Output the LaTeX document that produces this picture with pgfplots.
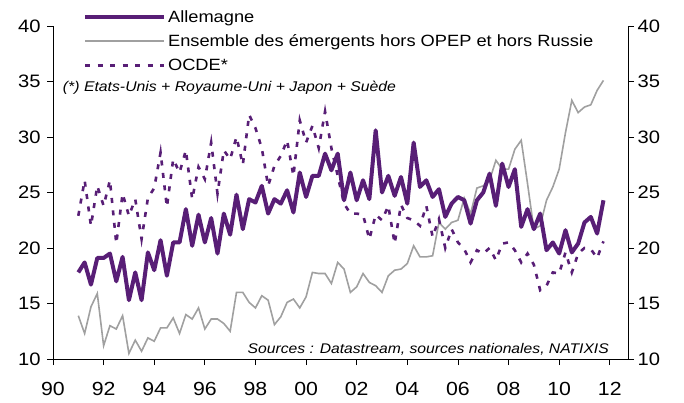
\documentclass[border=0pt]{standalone}
\usepackage{fontspec}
\setmainfont[FakeStretch=1.12]{Liberation Sans}
\usepackage{pgfplots}
\usepackage{pgfplotstable}
\pgfplotsset{compat=1.18}
\definecolor{mypurple}{RGB}{88,30,118}
\definecolor{mygray}{RGB}{160,160,160}

% quarterly data, 1991Q1 ... 2011Q4
\pgfplotstableread{
x       all   emg   ocde
1991.00 17.8  13.9  22.9
1991.25 18.7  12.3  26.1
1991.50 16.7  14.7  22.0
1991.75 19.1  15.9  25.6
1992.00 19.1  11.2  23.8
1992.25 19.5  13.0  26.1
1992.50 17.0  12.7  20.4
1992.75 19.2  13.9  24.9
1993.00 15.3  10.5  22.9
1993.25 17.8  11.7  24.4
1993.50 15.3  10.7  20.8
1993.75 19.6  11.9  24.5
1994.00 18.0  11.6  25.4
1994.25 20.7  12.8  28.6
1994.50 17.5  12.8  23.7
1994.75 20.5  13.7  28.0
1995.00 20.5  12.3  26.8
1995.25 23.5  14.0  28.8
1995.50 20.2  13.6  24.4
1995.75 23.0  14.6  27.3
1996.00 20.5  12.7  26.2
1996.25 22.7  13.6  29.5
1996.50 19.5  13.6  24.9
1996.75 23.1  13.2  28.8
1997.00 21.2  12.5  28.0
1997.25 24.8  16.0  30.0
1997.50 21.7  16.0  27.5
1997.75 24.4  15.1  32.0
1998.00 24.1  14.6  30.8
1998.25 25.6  15.7  29.0
1998.50 23.1  15.3  25.6
1998.75 24.4  13.1  27.4
1999.00 24.0  13.8  28.3
1999.25 25.2  15.1  29.7
1999.50 23.2  15.4  26.5
1999.75 26.8  14.6  31.5
2000.00 24.6  15.6  29.5
2000.25 26.5  17.8  31.0
2000.50 26.5  17.7  29.0
2000.75 28.5  17.7  32.3
2001.00 27.0  16.8  29.0
2001.25 28.5  18.7  26.5
2001.50 24.3  18.1  24.0
2001.75 26.8  16.0  23.1
2002.00 24.3  16.5  23.1
2002.25 26.1  17.7  23.0
2002.50 24.4  16.9  20.8
2002.75 30.6  16.6  23.0
2003.00 25.0  16.0  22.5
2003.25 26.5  17.5  23.8
2003.50 24.7  18.0  20.4
2003.75 26.4  18.1  23.9
2004.00 24.0  18.6  22.7
2004.25 29.5  20.2  22.5
2004.50 25.5  19.2  22.0
2004.75 26.1  19.2  23.8
2005.00 24.6  19.3  21.0
2005.25 25.3  22.3  22.6
2005.50 22.8  21.7  20.0
2005.75 24.0  22.3  21.7
2006.00 24.6  22.5  20.5
2006.25 24.3  24.5  19.9
2006.50 22.2  23.1  18.7
2006.75 24.3  25.4  19.8
2007.00 25.0  25.6  19.5
2007.25 26.7  26.1  20.0
2007.50 23.8  27.9  18.9
2007.75 27.6  27.1  20.4
2008.00 25.5  27.1  20.5
2008.25 27.1  28.9  19.8
2008.50 21.9  29.7  18.7
2008.75 23.5  25.8  19.5
2009.00 21.7  21.7  18.5
2009.25 23.1  22.0  16.2
2009.50 19.8  24.3  16.6
2009.75 20.5  25.5  17.8
2010.00 19.5  27.1  17.7
2010.25 21.6  30.4  19.6
2010.50 19.6  33.3  17.8
2010.75 20.4  32.2  19.5
2011.00 22.3  32.7  20.0
2011.25 22.8  32.9  19.9
2011.50 21.3  34.2  19.1
2011.75 24.3  35.1  20.6
}\datatable

\begin{document}
\begin{tikzpicture}
\useasboundingbox (0pt,0pt) rectangle (684pt,403pt);
\begin{axis}[
  at={(53pt,44pt)}, anchor=south west,
  scale only axis, width=575pt, height=333pt,
  xmin=1990, xmax=2012.72, ymin=10, ymax=40,
  axis x line*=bottom, axis y line*=left,
  axis line style={-, line width=0.8pt, black},
  xtick={1990,1992,...,2012},
  xticklabels={90,92,94,96,98,00,02,04,06,08,10,12},
  ytick={10,15,...,40},
  tick align=outside, major tick length=6pt,
  tick style={black, line width=0.8pt},
  yticklabel style={font=\fontsize{18}{20}\selectfont, xshift=-3pt},
  xticklabel style={font=\fontsize{19}{21}\selectfont, yshift=-14pt},
  /pgf/number format/assume math mode=true,
  legend style={at={(0.052,1.054)}, anchor=north west, draw=none, fill=none,
    font=\fontsize{16.3}{18}\selectfont, inner sep=0pt, row sep=7pt,
    cells={anchor=west}},
  legend image code/.code={\draw[#1] (0pt,0pt) -- (79pt,0pt);},
]
\addlegendimage{mypurple, line width=4pt}
\addlegendentry{Allemagne}
\addlegendimage{mygray, line width=1.6pt}
\addlegendentry{Ensemble des émergents hors OPEP et hors Russie}
\addlegendimage{mypurple, line width=2.6pt, dash pattern=on 5pt off 7.5pt}
\addlegendentry{OCDE*}
\addplot[mygray, line width=1.6pt, forget plot] table[x=x, y=emg] {\datatable};
\addplot[mypurple, line width=4pt, line join=round, forget plot] table[x=x, y=all] {\datatable};
\addplot[mypurple, line width=2.6pt, dash pattern=on 5pt off 7.5pt, forget plot] table[x=x, y=ocde] {\datatable};
\node[anchor=west, font=\itshape\fontsize{14.1}{16}\selectfont, inner sep=0pt]
  at (rel axis cs:0.017,0.814) {(*) Etats-Unis + Royaume-Uni + Japon + Suède};
\node[anchor=east, font=\itshape\fontsize{14}{16}\selectfont, inner sep=0pt]
  at (rel axis cs:0.967,0.028) {Sources : Datastream, sources nationales, NATIXIS};
\end{axis}
\begin{axis}[
  at={(53pt,44pt)}, anchor=south west,
  scale only axis, width=575pt, height=333pt,
  xmin=1990, xmax=2012.72, ymin=10, ymax=40,
  axis y line*=right, axis x line=none,
  axis line style={-, line width=0.8pt, black},
  ytick={10,15,...,40},
  tick align=outside, major tick length=6pt,
  tick style={black, line width=0.8pt},
  yticklabel style={font=\fontsize{18}{20}\selectfont},
  /pgf/number format/assume math mode=true,
]
\addplot[draw=none] table[x=x, y=emg] {\datatable};
\end{axis}
\end{tikzpicture}
\end{document}
